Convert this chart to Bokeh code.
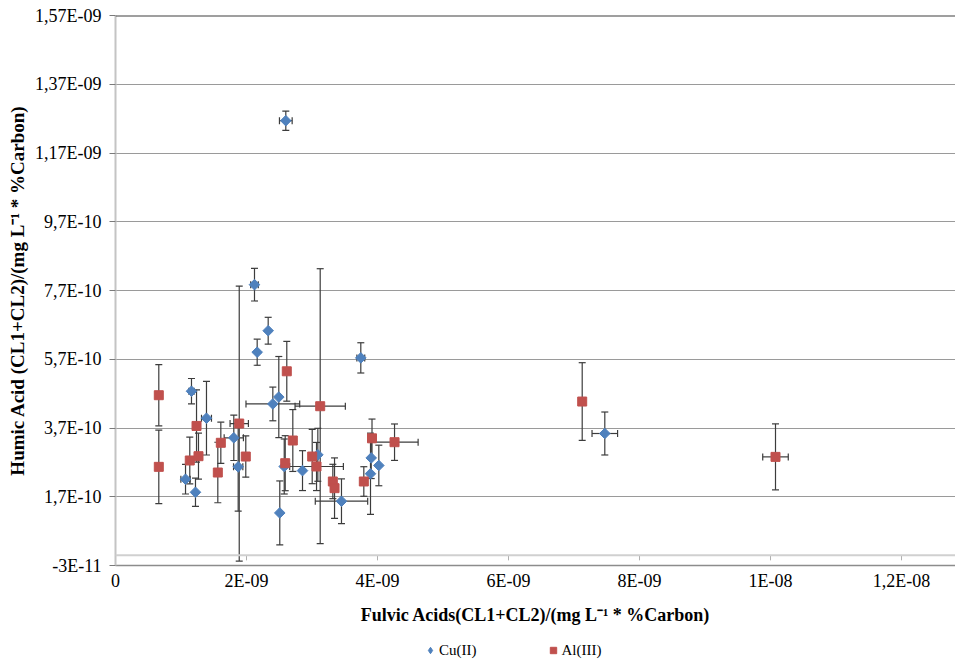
from bokeh.plotting import figure
from bokeh.layouts import column
from bokeh.models import (ColumnDataSource, Whisker, TeeHead, Span, FixedTicker,
                          Range1d, Legend, LegendItem)
from bokeh.embed import file_html
from bokeh.resources import INLINE

SCALE = 1e-9  # all values below are in units of 1E-09

# Cu(II) series
cu_fulvic = [1.069, 1.160, 1.221, 1.389, 1.806, 1.873, 2.122, 2.163, 2.331, 2.402, 2.493,
             2.508, 2.576, 2.600, 2.855, 3.089, 3.450, 3.745, 3.904, 3.893, 4.020, 7.470]
cu_humic = [0.221, 0.477, 0.183, 0.3985, 0.3415, 0.257, 0.787, 0.5905, 0.653, 0.440, 0.460,
            0.123, 0.258, 1.264, 0.246, 0.292, 0.157, 0.574, 0.283, 0.237, 0.261, 0.354]
cu_fulvic_err = [0.071, 0.04, 0.0, 0.076, 0.147, 0.071, 0.058, 0.0, 0.0, 0.41, 0.0,
                 0.0, 0.0, 0.097, 0.0, 0.0, 0.40, 0.06, 0.0, 0.0, 0.0, 0.195]
cu_humic_err = [0.043, 0.037, 0.041, 0.107, 0.066, 0.129, 0.0475, 0.038, 0.039, 0.049, 0.118,
                0.093, 0.08, 0.028, 0.058, 0.077, 0.065, 0.044, 0.06, 0.118, 0.059, 0.0625]

# Al(III) series
al_fulvic = [0.661, 0.661, 1.134, 1.237, 1.267, 1.562, 1.608, 1.889, 1.989, 2.615, 2.591,
             2.707, 3.125, 3.003, 3.069, 3.318, 3.344, 3.791, 3.916, 4.260, 7.125, 10.076]
al_humic = [0.4654, 0.257, 0.2755, 0.376, 0.288, 0.2405, 0.327, 0.383, 0.287, 0.535, 0.2676,
            0.3336, 0.4334, 0.287, 0.258, 0.2144, 0.195, 0.2144, 0.340, 0.3287, 0.447, 0.286]
al_fulvic_err = [0.05, 0.0, 0.0, 0.0, 0.0, 0.0, 0.0, 0.14, 0.0, 0.0, 0.0,
                 0.0, 0.384, 0.0, 0.41, 0.0, 0.0, 0.0, 0.0, 0.36, 0.0, 0.195]
al_humic_err = [0.089, 0.107, 0.068, 0.105, 0.067, 0.088, 0.06, 0.40, 0.06, 0.087, 0.08,
                0.09, 0.40, 0.079, 0.07, 0.05, 0.088, 0.043, 0.056, 0.053, 0.113, 0.096]

x_ticks = [0, 2e-9, 4e-9, 6e-9, 8e-9, 1e-8, 1.2e-8]
x_tick_labels = ["0", "2E-09", "4E-09", "6E-09", "8E-09", "1E-08", "1,2E-08"]
y_ticks = [-3e-11, 1.7e-10, 3.7e-10, 5.7e-10, 7.7e-10, 9.7e-10, 1.17e-9, 1.37e-9, 1.57e-9]
y_tick_labels = ["-3E-11", "1,7E-10", "3,7E-10", "5,7E-10", "7,7E-10", "9,7E-10",
                 "1,17E-09", "1,37E-09", "1,57E-09"]

x_title = "Fulvic Acids(CL1+CL2)/(mg L\u207b\u00b9 * %Carbon)"
y_title = "Humic Acid (CL1+CL2)/(mg L\u207b\u00b9 * %Carbon)"
series_names = ["Cu(II)", "Al(III)"]

FONT = "Liberation Serif"
CU_COLOR = "#4F81BD"
AL_COLOR = "#C0504D"
ERR_COLOR = "#3c3c3c"

p = figure(width=955, height=633, frame_width=840, frame_height=550,
           output_backend="svg", toolbar_location=None,
           x_range=Range1d(0, 1.2824e-8), y_range=Range1d(-3e-11, 1.57e-9),
           min_border_left=115, min_border_top=15, min_border_right=0, min_border_bottom=68)
p.outline_line_color = None
p.background_fill_color = "white"
p.border_fill_color = "white"

# axes
p.xaxis.ticker = FixedTicker(ticks=x_ticks)
p.xaxis.major_label_overrides = dict(zip(x_ticks, x_tick_labels))
p.yaxis.ticker = FixedTicker(ticks=y_ticks)
p.yaxis.major_label_overrides = dict(zip(y_ticks, y_tick_labels))

for ax in (p.xaxis[0], p.yaxis[0]):
    ax.major_label_text_font = FONT
    ax.major_label_text_font_size = "18px"
    ax.major_label_text_color = "black"
    ax.axis_label_text_font = FONT
    ax.axis_label_text_font_style = "bold"
    ax.axis_label_text_color = "black"
    ax.minor_tick_line_color = None

p.xaxis.axis_label = x_title
p.xaxis.axis_label_text_font_size = "18px"
p.xaxis.major_tick_out = 0
p.xaxis.major_tick_in = 0
p.xaxis.major_label_standoff = 5
p.xaxis.axis_label_standoff = 11
p.xaxis.axis_line_color = "#8c8c8c"
p.xaxis.axis_line_width = 1.5

p.yaxis.axis_label = y_title
p.yaxis.axis_label_text_font_size = "19px"
p.yaxis.major_tick_out = 6
p.yaxis.major_tick_in = 0
p.yaxis.major_tick_line_color = "#7a7a7a"
p.yaxis.major_label_standoff = 8
p.yaxis.axis_label_standoff = 4
p.yaxis.axis_line_color = "#c4c4c4"
p.yaxis.axis_line_width = 2

p.xgrid.visible = False
p.ygrid.ticker = FixedTicker(ticks=y_ticks)
p.ygrid.grid_line_color = "#9a9a9a"
p.ygrid.grid_line_width = 1

# top border and zero line (horizontal axis crossing at 0)
p.add_layout(Span(location=y_ticks[-1], dimension="width", line_color="#404040", line_width=2))
p.add_layout(Span(location=0, dimension="width", line_color="#d0d0d0", line_width=2))
p.segment(x0=x_ticks[1:], y0=[0] * (len(x_ticks) - 1), x1=x_ticks[1:],
          y1=[-1.5e-11] * (len(x_ticks) - 1), line_color="#b0b0b0", line_width=1)


def add_errors(xs, ys, xerr, yerr):
    xv = [v * SCALE for v in xs]
    yv = [v * SCALE for v in ys]
    vsrc = ColumnDataSource(dict(
        base=[x for x, e in zip(xv, yerr) if e > 0],
        lower=[y - e * SCALE for y, e in zip(yv, yerr) if e > 0],
        upper=[y + e * SCALE for y, e in zip(yv, yerr) if e > 0]))
    hsrc = ColumnDataSource(dict(
        base=[y for y, e in zip(yv, xerr) if e > 0],
        lower=[x - e * SCALE for x, e in zip(xv, xerr) if e > 0],
        upper=[x + e * SCALE for x, e in zip(xv, xerr) if e > 0]))
    for src, dim in ((vsrc, "height"), (hsrc, "width")):
        w = Whisker(source=src, base="base", lower="lower", upper="upper", dimension=dim,
                    line_color=ERR_COLOR, line_width=1.2, level="underlay",
                    upper_head=TeeHead(size=7, line_color=ERR_COLOR, line_width=1.2),
                    lower_head=TeeHead(size=7, line_color=ERR_COLOR, line_width=1.2))
        p.add_layout(w)
    return xv, yv


cx, cy = add_errors(cu_fulvic, cu_humic, cu_fulvic_err, cu_humic_err)
ax_, ay_ = add_errors(al_fulvic, al_humic, al_fulvic_err, al_humic_err)

r_cu = p.scatter(x=cx, y=cy, marker="square", angle=0.785398, size=7.5,
                 fill_color=CU_COLOR, line_color=CU_COLOR)
r_al = p.scatter(x=ax_, y=ay_, marker="square", size=9,
                 fill_color=AL_COLOR, line_color=AL_COLOR)

# legend strip below the chart (Excel-style legend under the axis title);
# its renderers carry the same series but its ranges keep the points out of view
lf = figure(width=955, height=29, frame_width=955, frame_height=29,
            output_backend="svg", toolbar_location=None,
            x_range=Range1d(2, 3), y_range=Range1d(2, 3),
            x_axis_type=None, y_axis_type=None,
            min_border_left=0, min_border_right=0, min_border_top=0, min_border_bottom=0)
lf.outline_line_color = None
lf.xgrid.visible = False
lf.ygrid.visible = False
l_cu = lf.scatter(x=cx, y=cy, marker="diamond", size=7,
                  fill_color=CU_COLOR, line_color=CU_COLOR)
l_al = lf.scatter(x=ax_, y=ay_, marker="square", size=7,
                  fill_color=AL_COLOR, line_color=AL_COLOR)
legend = Legend(items=[LegendItem(label=series_names[0], renderers=[l_cu]),
                       LegendItem(label=series_names[1], renderers=[l_al])],
                orientation="horizontal", location=(422, 2),
                label_text_font=FONT, label_text_font_size="15px",
                label_text_color="black",
                glyph_width=16, glyph_height=20, label_standoff=1,
                spacing=68, padding=0, margin=0,
                border_line_color=None, background_fill_alpha=0)
lf.add_layout(legend, "center")

open("out.html", "w").write(file_html(column(p, lf), INLINE))
